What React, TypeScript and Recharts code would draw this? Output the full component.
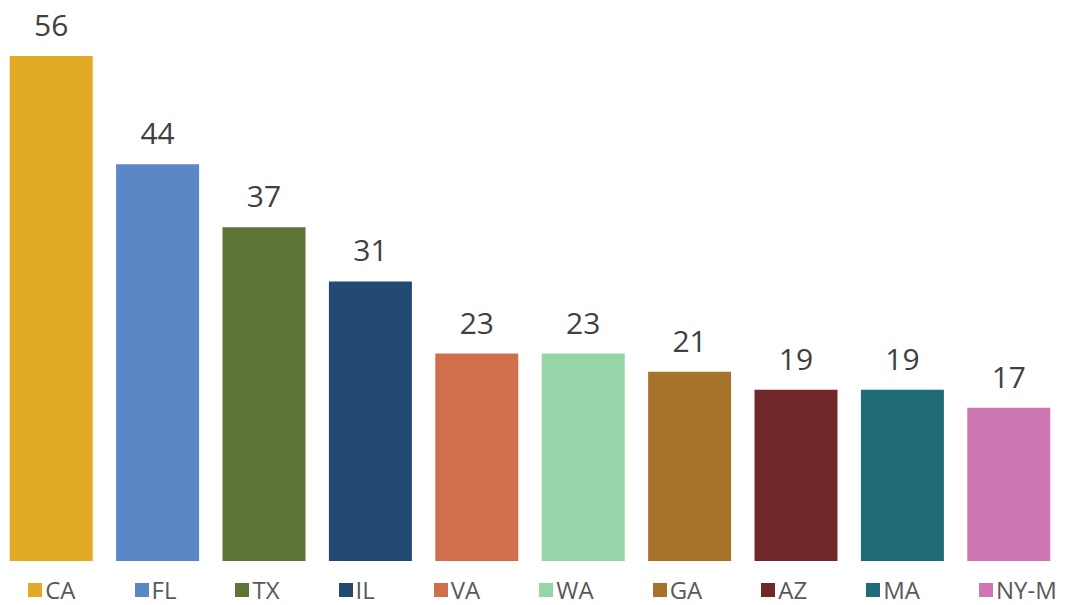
import { Bar, BarChart, Cell, LabelList, Legend, XAxis, YAxis } from "recharts";

const states = ["CA", "FL", "TX", "IL", "VA", "WA", "GA", "AZ", "MA", "NY-M"];
const counts = [56, 44, 37, 31, 23, 23, 21, 19, 19, 17];
const colors = [
  "#E2AA24",
  "#5B87C6",
  "#5E7434",
  "#234A73",
  "#CF6F4B",
  "#96D5A7",
  "#A7732A",
  "#72282A",
  "#1F6B78",
  "#CF77B3",
];

const data = states.map((state, i) => ({ state, value: counts[i] }));

const font = '"Open Sans", "Noto Sans", sans-serif';

function StateLegend() {
  return (
    <div
      style={{
        display: "flex",
        justifyContent: "center",
        alignItems: "center",
        height: 44,
        paddingTop: 14,
        paddingLeft: 25,
        boxSizing: "border-box",
        whiteSpace: "nowrap",
      }}
    >
      {states.map((s, i) => (
        <div
          key={s}
          style={{
            display: "flex",
            alignItems: "center",
            flexShrink: 0,
            marginRight: i === states.length - 1 ? 0 : 59,
          }}
        >
          <span
            style={{ width: 14, height: 14, background: colors[i], marginRight: 3, display: "inline-block" }}
          />
          <span style={{ fontFamily: font, fontSize: 24, lineHeight: "26px", color: "#595959" }}>{s}</span>
        </div>
      ))}
    </div>
  );
}

export default function App() {
  return (
    <div style={{ position: "absolute", left: 0, top: 0, width: 1066, height: 605, background: "#fff" }}>
      <BarChart
        width={1066}
        height={605}
        data={data}
        margin={{ top: 56, right: 4, bottom: 0, left: -2 }}
        barCategoryGap="11%"
      >
        <XAxis dataKey="state" hide />
        <YAxis hide domain={[0, 56]} />
        <Legend verticalAlign="bottom" height={44} content={() => <StateLegend />} />
        <Bar dataKey="value" isAnimationActive={false}>
          {data.map((d, i) => (
            <Cell key={d.state} fill={colors[i]} />
          ))}
          <LabelList
            dataKey="value"
            position="top"
            offset={20}
            style={{ fontFamily: font, fontSize: 30, fill: "#404040" }}
          />
        </Bar>
      </BarChart>
    </div>
  );
}
